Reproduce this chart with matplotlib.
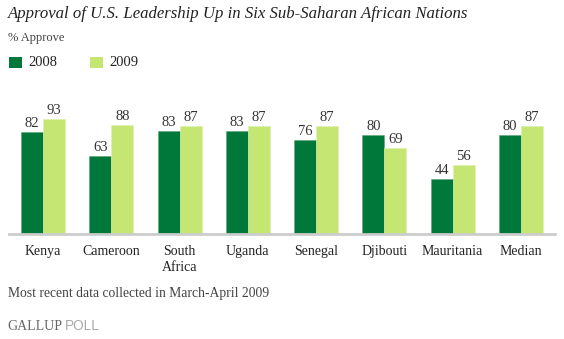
import matplotlib
matplotlib.use("Agg")
import matplotlib.pyplot as plt
import numpy as np
from matplotlib.patches import Rectangle

categories = ["Kenya", "Cameroon", "South\nAfrica", "Uganda", "Senegal", "Djibouti", "Mauritania", "Median"]
approve_2008 = [82, 63, 83, 83, 76, 80, 44, 80]
approve_2009 = [93, 88, 87, 87, 87, 69, 56, 87]
series_labels = ["2008", "2009"]

dark_green = "#00783A"
light_green = "#C6E673"
serif = ["Liberation Serif", "DejaVu Serif"]

W, H = 564, 339
fig = plt.figure(figsize=(W / 100, H / 100), dpi=100)

# axes placed in pixel terms: baseline at y=234, x from 9 to 555
ax_left, ax_right = 9, 555
ax_bottom, ax_top = 234, 100
ax = fig.add_axes([ax_left / W, (H - ax_bottom) / H, (ax_right - ax_left) / W, (ax_bottom - ax_top) / H])

x = np.arange(len(categories))
bw = 0.322
ax.bar(x - bw / 2, approve_2008, width=bw, color=dark_green, edgecolor="#5FA57A", linewidth=0.4)
ax.bar(x + bw / 2, approve_2009, width=bw, color=light_green, edgecolor="#DDEFB0", linewidth=0.4)

ax.set_xlim(-0.5, len(categories) - 0.5)
ax.set_ylim(0, (ax_bottom - ax_top) / 1.24)

for xi, v in zip(x, approve_2008):
    ax.text(xi - bw / 2, v + 1.6, str(v), ha="center", va="bottom", fontsize=10.5, family=serif, color="#333333")
for xi, v in zip(x, approve_2009):
    ax.text(xi + bw / 2, v + 1.6, str(v), ha="center", va="bottom", fontsize=10.5, family=serif, color="#333333")

for s in ["top", "right", "left"]:
    ax.spines[s].set_visible(False)
ax.spines["bottom"].set_color("#CCCCCC")
ax.spines["bottom"].set_linewidth(2)
ax.set_yticks([])
ax.set_xticks(x)
ax.set_xticklabels(categories, family=serif, fontsize=10, color="#222222", linespacing=1.25)
ax.tick_params(axis="x", length=0, pad=8)


def fy(py):
    return 1 - py / H


def fx(px):
    return px / W


fig.text(fx(8), fy(14), "Approval of U.S. Leadership Up in Six Sub-Saharan African Nations",
         family=serif, style="italic", fontsize=12.1, color="#222222", va="center", ha="left")
fig.text(fx(8), fy(38), "% Approve", family=serif, fontsize=9, color="#444444", va="center", ha="left")

# legend
for px, col, lab in [(9, dark_green, series_labels[0]), (90, light_green, series_labels[1])]:
    fig.patches.append(Rectangle((fx(px), fy(68)), 13 / W, 11 / H, transform=fig.transFigure,
                                 facecolor=col, edgecolor="none"))
    fig.text(fx(px + 19), fy(63), lab, family=serif, fontsize=10.5, color="#222222", va="center", ha="left")

fig.text(fx(8), fy(293), "Most recent data collected in March-April 2009", family=serif, fontsize=9.8,
         color="#444444", va="center", ha="left")

fig.text(fx(7), fy(326), "GALLUP", family=serif, fontsize=10, color="#666666", va="center", ha="left")
fig.text(fx(65), fy(326), "POLL", family=["Liberation Sans", "DejaVu Sans"], fontsize=9.8, color="#AAAAAA",
         va="center", ha="left")

fig.savefig("out.png", dpi=100)
